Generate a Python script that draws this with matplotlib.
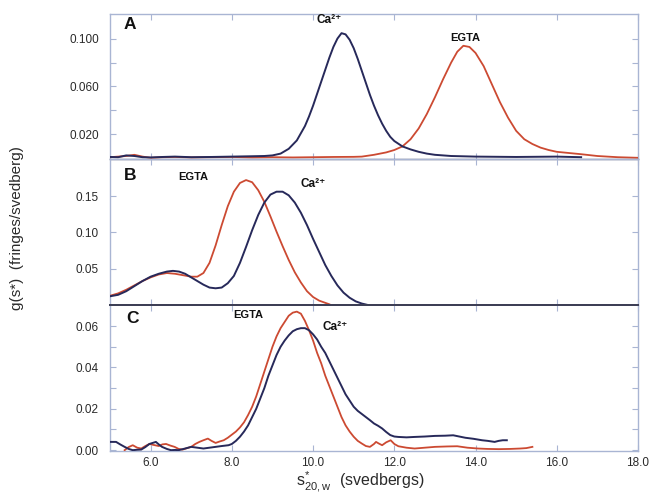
import matplotlib
matplotlib.use("Agg")
import matplotlib.pyplot as plt
from matplotlib.ticker import FixedLocator, FixedFormatter

plt.rcParams['font.family'] = ['Liberation Sans', 'DejaVu Sans']
plt.rcParams['mathtext.fontset'] = 'custom'
plt.rcParams['mathtext.rm'] = 'Liberation Sans'
plt.rcParams['mathtext.it'] = 'Liberation Sans'
plt.rcParams['mathtext.bf'] = 'Liberation Sans:bold'

# ---------------- data ----------------
# Panel A
a_ca_x = [5.0, 5.2, 5.4, 5.6, 5.8, 6.0, 6.3, 6.6, 7.0, 7.5, 8.0, 8.5, 8.8, 9.0, 9.2, 9.4,
          9.6, 9.8, 9.9, 10.0, 10.1, 10.2, 10.3, 10.4, 10.5, 10.6, 10.7, 10.8, 10.9, 11.0,
          11.1, 11.2, 11.3, 11.4, 11.5, 11.6, 11.7, 11.8, 11.9, 12.0, 12.2, 12.4, 12.6,
          12.8, 13.0, 13.4, 14.0, 15.0, 16.0, 16.6]
a_ca_y = [0.0012, 0.0010, 0.0025, 0.0020, 0.0010, 0.0008, 0.0012, 0.0015, 0.0010, 0.0012,
          0.0015, 0.0018, 0.0020, 0.0025, 0.0040, 0.0080, 0.0150, 0.0270, 0.0350, 0.0440,
          0.0540, 0.0640, 0.0740, 0.0840, 0.0930, 0.1000, 0.1045, 0.1035, 0.0990, 0.0920,
          0.0830, 0.0730, 0.0630, 0.0530, 0.0440, 0.0360, 0.0290, 0.0230, 0.0180, 0.0145,
          0.0100, 0.0075, 0.0055, 0.0040, 0.0030, 0.0020, 0.0015, 0.0012, 0.0015, 0.0010]
a_eg_x = [5.0, 5.2, 5.4, 5.6, 5.8, 6.0, 6.3, 6.6, 7.0, 7.5, 8.0, 8.5, 9.0, 9.5, 10.0, 10.5,
          11.0, 11.2, 11.5, 11.8, 12.0, 12.2, 12.4, 12.6, 12.8, 13.0, 13.2, 13.4, 13.55,
          13.7, 13.85, 14.0, 14.2, 14.4, 14.6, 14.8, 15.0, 15.2, 15.4, 15.6, 15.8, 16.0,
          16.3, 16.6, 17.0, 17.5, 18.0]
a_eg_y = [0.0010, 0.0015, 0.0020, 0.0030, 0.0015, 0.0005, 0.0010, 0.0012, 0.0008, 0.0010,
          0.0012, 0.0008, 0.0010, 0.0008, 0.0010, 0.0012, 0.0013, 0.0015, 0.0030, 0.0050,
          0.0070, 0.0100, 0.0160, 0.0250, 0.0370, 0.0510, 0.0660, 0.0800, 0.0890, 0.0940,
          0.0930, 0.0880, 0.0770, 0.0620, 0.0470, 0.0340, 0.0230, 0.0160, 0.0120, 0.0090,
          0.0070, 0.0055, 0.0045, 0.0035, 0.0020, 0.0010, 0.0005]

# Panel B
b_eg_x = [5.0, 5.2, 5.4, 5.6, 5.8, 6.0, 6.2, 6.4, 6.6, 6.8, 7.0, 7.15, 7.3, 7.45, 7.6,
          7.75, 7.9, 8.05, 8.2, 8.35, 8.5, 8.65, 8.8, 8.95, 9.1, 9.25, 9.4, 9.55, 9.7,
          9.85, 10.0, 10.15, 10.3, 10.4]
b_eg_y = [0.0127, 0.016, 0.021, 0.027, 0.033, 0.038, 0.042, 0.044, 0.043, 0.041, 0.039,
          0.039, 0.044, 0.058, 0.082, 0.110, 0.136, 0.156, 0.168, 0.172, 0.169, 0.158,
          0.142, 0.122, 0.101, 0.081, 0.062, 0.045, 0.031, 0.019, 0.011, 0.006, 0.003,
          0.001]
b_ca_x = [5.0, 5.2, 5.4, 5.6, 5.8, 6.0, 6.2, 6.4, 6.55, 6.7, 6.85, 7.0, 7.15, 7.3, 7.45,
          7.6, 7.75, 7.9, 8.05, 8.2, 8.35, 8.5, 8.65, 8.8, 8.95, 9.1, 9.25, 9.4, 9.55, 9.7,
          9.85, 10.0, 10.15, 10.3, 10.45, 10.6, 10.75, 10.9, 11.05, 11.2, 11.35]
b_ca_y = [0.012, 0.014, 0.019, 0.026, 0.033, 0.039, 0.043, 0.046, 0.047, 0.046, 0.043,
          0.038, 0.033, 0.028, 0.024, 0.023, 0.024, 0.030, 0.040, 0.058, 0.080, 0.103,
          0.124, 0.141, 0.152, 0.156, 0.156, 0.151, 0.141, 0.127, 0.110, 0.091, 0.073,
          0.055, 0.040, 0.027, 0.017, 0.010, 0.005, 0.002, 0.000]

# Panel C
c_eg_x = [5.36, 5.46, 5.56, 5.67, 5.77, 5.87, 5.97, 6.08, 6.2, 6.29, 6.38, 6.49, 6.59,
          6.69, 6.79, 6.9, 7.0, 7.1, 7.2, 7.3, 7.41, 7.5, 7.6, 7.7, 7.8, 7.9, 8.0, 8.1,
          8.2, 8.3, 8.4, 8.5, 8.6, 8.7, 8.8, 8.9, 9.0, 9.1, 9.2, 9.3, 9.4, 9.5, 9.6, 9.7,
          9.8, 9.9, 10.0, 10.1, 10.2, 10.3, 10.4, 10.5, 10.6, 10.7, 10.8, 10.9, 11.0, 11.1,
          11.2, 11.3, 11.4, 11.5, 11.55, 11.62, 11.7, 11.8, 11.91, 12.0, 12.1, 12.3, 12.5,
          12.75, 13.0, 13.3, 13.55, 13.8, 14.06, 14.3, 14.57, 14.85, 15.1, 15.25, 15.4]
c_eg_y = [0.0000, 0.0015, 0.0024, 0.0012, 0.0008, 0.0020, 0.0030, 0.0025, 0.0020, 0.0028,
          0.0030, 0.0022, 0.0016, 0.0006, 0.0003, 0.0010, 0.0016, 0.0030, 0.0040, 0.0048,
          0.0056, 0.0045, 0.0035, 0.0042, 0.0048, 0.0060, 0.0075, 0.0090, 0.0110, 0.0135,
          0.0170, 0.0210, 0.0260, 0.0320, 0.0380, 0.0440, 0.0500, 0.0550, 0.0590, 0.0620,
          0.0650, 0.0665, 0.0670, 0.0660, 0.0625, 0.0580, 0.0530, 0.0470, 0.0420, 0.0360,
          0.0310, 0.0260, 0.0210, 0.0160, 0.0120, 0.0090, 0.0065, 0.0045, 0.0032, 0.0020,
          0.0016, 0.0030, 0.0040, 0.0032, 0.0024, 0.0038, 0.0048, 0.0030, 0.0019, 0.0012,
          0.0008, 0.0012, 0.0016, 0.0018, 0.0019, 0.0012, 0.0008, 0.0006, 0.0005, 0.0006,
          0.0008, 0.0010, 0.0016]
c_ca_x = [5.0, 5.15, 5.25, 5.36, 5.46, 5.56, 5.67, 5.77, 5.87, 5.97, 6.05, 6.13, 6.2, 6.28,
          6.4, 6.5, 6.6, 6.69, 6.85, 7.0, 7.15, 7.3, 7.45, 7.6, 7.75, 7.92, 8.0, 8.1, 8.2,
          8.3, 8.4, 8.5, 8.6, 8.7, 8.8, 8.9, 9.0, 9.1, 9.2, 9.3, 9.4, 9.5, 9.6, 9.7, 9.8,
          9.9, 10.0, 10.1, 10.2, 10.3, 10.4, 10.5, 10.6, 10.7, 10.8, 10.9, 11.0, 11.1, 11.2,
          11.3, 11.4, 11.5, 11.6, 11.7, 11.8, 11.9, 12.0, 12.1, 12.3, 12.5, 12.75, 13.0,
          13.25, 13.45, 13.6, 13.75, 13.95, 14.16, 14.3, 14.47, 14.57, 14.67, 14.77]
c_ca_y = [0.0040, 0.0040, 0.0028, 0.0016, 0.0006, 0.0000, 0.0002, 0.0003, 0.0015, 0.0030,
          0.0035, 0.0040, 0.0028, 0.0016, 0.0006, 0.0000, 0.0001, 0.0000, 0.0008, 0.0016,
          0.0012, 0.0008, 0.0012, 0.0016, 0.0020, 0.0024, 0.0030, 0.0045, 0.0065, 0.0090,
          0.0120, 0.0160, 0.0200, 0.0250, 0.0300, 0.0360, 0.0410, 0.0460, 0.0500, 0.0530,
          0.0555, 0.0575, 0.0585, 0.0590, 0.0590, 0.0580, 0.0560, 0.0535, 0.0500, 0.0470,
          0.0430, 0.0390, 0.0350, 0.0310, 0.0270, 0.0240, 0.0210, 0.0190, 0.0175, 0.0160,
          0.0145, 0.0129, 0.0118, 0.0105, 0.0088, 0.0073, 0.0066, 0.0064, 0.0062, 0.0064,
          0.0066, 0.0069, 0.0070, 0.0072, 0.0066, 0.0060, 0.0055, 0.0048, 0.0045, 0.0040,
          0.0045, 0.0048, 0.0048]

x_ticks = [6.0, 8.0, 10.0, 12.0, 14.0, 16.0, 18.0]
x_ticklabels = ["6.0", "8.0", "10.0", "12.0", "14.0", "16.0", "18.0"]
a_yticks = [0.02, 0.04, 0.06, 0.08, 0.10]
a_yticklabels = ["0.020", "", "0.060", "", "0.100"]
b_yticks = [0.05, 0.10, 0.15]
b_yticklabels = ["0.05", "0.10", "0.15"]
c_yticks = [0.00, 0.01, 0.02, 0.03, 0.04, 0.05, 0.06]
c_yticklabels = ["0.00", "", "0.02", "", "0.04", "", "0.06"]

# ---------------- style ----------------
NAVY = "#27295a"
RED = "#cc4a32"
SPINE = "#a9b5d3"
DARK = "#3d3f55"
TXT = "#2a2a2a"

fig = plt.figure(figsize=(6.5, 4.97), dpi=100)
L, R = 110 / 650, 638 / 650
def ax_rect(top_px, bot_px):
    return [L, 1 - bot_px / 497, R - L, (bot_px - top_px) / 497]

axA = fig.add_axes(ax_rect(14, 159))
axB = fig.add_axes(ax_rect(159, 305))
axC = fig.add_axes(ax_rect(305, 451))

panels = [
    (axA, (a_ca_x, a_ca_y), (a_eg_x, a_eg_y), (-0.0005, 0.1205), a_yticks, a_yticklabels),
    (axB, (b_ca_x, b_ca_y), (b_eg_x, b_eg_y), (0.0, 0.201), b_yticks, b_yticklabels),
    (axC, (c_ca_x, c_ca_y), (c_eg_x, c_eg_y), (-0.0004, 0.0702), c_yticks, c_yticklabels),
]

for ax, ca, eg, ylim, yt, ytl in panels:
    ax.plot(eg[0], eg[1], color=RED, lw=1.3, zorder=3)
    ax.plot(ca[0], ca[1], color=NAVY, lw=1.4, zorder=4)
    ax.set_xlim(5.0, 18.0)
    ax.set_ylim(*ylim)
    ax.yaxis.set_major_locator(FixedLocator(yt))
    ax.yaxis.set_major_formatter(FixedFormatter(ytl))
    ax.xaxis.set_major_locator(FixedLocator(x_ticks))
    ax.tick_params(axis='both', direction='in', length=4.5, width=0.8, color=SPINE,
                   labelsize=8.5, labelcolor=TXT, top=True, right=True, pad=3)
    ax.tick_params(axis='y', pad=8)
    for s in ax.spines.values():
        s.set_color(SPINE)
        s.set_linewidth(1.0)
    ax.set_facecolor('none')

axA.tick_params(labelbottom=False)
axB.tick_params(labelbottom=False)
axC.xaxis.set_major_formatter(FixedFormatter(x_ticklabels))
axC.tick_params(axis='x', pad=4)
axB.spines['bottom'].set_color(DARK)
axB.spines['bottom'].set_linewidth(1.4)
axC.spines['top'].set_color(DARK)
axC.spines['top'].set_linewidth(1.4)
axA.spines['bottom'].set_color("#5a5c7a")

# panel letters and labels
kw = dict(fontweight='bold', color='#111111', ha='center', va='center')
axA.text(5.5, 0.112, "A", fontsize=12.5, **kw)
axB.text(5.5, 0.178, "B", fontsize=12.5, **kw)
axC.text(5.55, 0.0637, "C", fontsize=12.5, **kw)

CA = "Ca\u00b2\u207a"
axA.text(10.4, 0.1155, CA, fontsize=8.5, **kw)
axA.text(13.75, 0.1005, "EGTA", fontsize=8, **kw)
axB.text(7.05, 0.176, "EGTA", fontsize=8, **kw)
axB.text(10.0, 0.166, CA, fontsize=8.5, **kw)
axC.text(8.4, 0.0655, "EGTA", fontsize=8, **kw)
axC.text(10.55, 0.0597, CA, fontsize=8.5, **kw)

fig.text(17 / 650, 1 - 228 / 497, "g(s*)  (fringes/svedberg)", rotation=90,
         ha='center', va='center', fontsize=11, color=TXT)
fig.text(360 / 650, 1 - 482 / 497, r"s$^{*}_{20,w}$  (svedbergs)",
         ha='center', va='center', fontsize=11.5, color=TXT)

fig.savefig("out.png", dpi=100)
